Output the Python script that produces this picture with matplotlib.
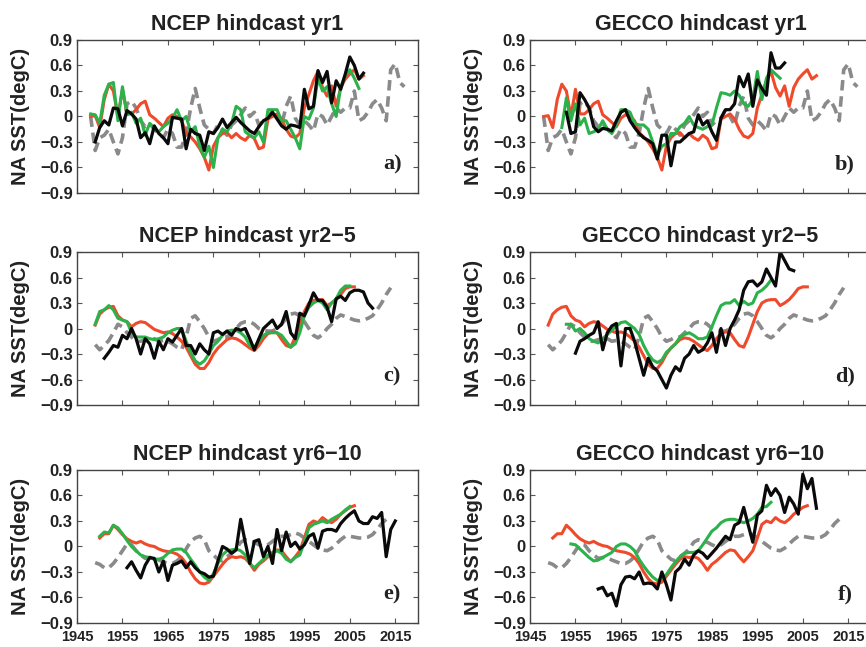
import numpy as np
import matplotlib.pyplot as plt
from matplotlib.ticker import FuncFormatter

plt.rcParams['font.family'] = ['Liberation Sans', 'DejaVu Sans']

# ---- data (NA SST anomaly, degC), start year + yearly values ----
# grey dashed, row 1 (yr1)
grey1_start = 1948
grey1 = [0.0, -0.40, -0.25, -0.22, -0.15, -0.3, -0.44, -0.25, 0.15, 0.18,
         0.1, -0.05, -0.12, -0.08, -0.15, -0.2, -0.25, -0.15, -0.2, -0.36,
         -0.36, -0.2, 0.1, 0.33, 0.1, -0.1, -0.15, -0.2, -0.1, -0.15,
         -0.22, -0.1, -0.05, 0.02, 0.1, 0.0, 0.05, -0.1, -0.05, -0.02,
         0.08, 0.0, -0.1, 0.12, 0.24, -0.02, -0.1, -0.05, -0.1, -0.17,
         0.03, 0.0, -0.1, 0.0, 0.1, 0.05, 0.1, 0.1, 0.3, -0.05,
         -0.02, 0.05, 0.15, 0.2, 0.1, -0.05, 0.55, 0.62, 0.4, 0.35]
# red, row 1
red1_start = 1948
red1 = [0.0, 0.01, -0.13, 0.2, 0.38, 0.3, 0.0, 0.32, 0.03, 0.03,
        0.08, 0.15, 0.18, 0.02, -0.02, -0.07, -0.12, -0.02, 0.02, 0.0,
        -0.05, -0.19, -0.24, -0.3, -0.38, -0.48, -0.63, -0.35, -0.25, -0.2,
        -0.19, -0.25, -0.2, -0.25, -0.28, -0.22, -0.26, -0.38, -0.36, -0.03,
        0.0, 0.03, -0.03, -0.15, -0.23, -0.25, -0.2, 0.1, 0.26, 0.42,
        0.53, 0.34, 0.24, 0.36, 0.12, 0.34, 0.44, 0.5, 0.55, 0.44, 0.48]
# NCEP yr1
green_a_start = 1948
green_a = [0.03, 0.02, -0.08, 0.25, 0.38, 0.40, -0.05, 0.35, 0.02, 0.05,
           -0.08, -0.02, -0.22, -0.08, -0.15, -0.18, -0.12, -0.08, -0.02, 0.08,
           -0.05, 0.0, -0.18, -0.12, -0.35, -0.48, -0.35, -0.60, -0.25, -0.15,
           -0.18, -0.08, 0.12, 0.08, -0.18, -0.22, -0.25, -0.18, -0.3, 0.08,
           0.08, 0.08, -0.05, -0.05, -0.15, -0.25, -0.38, 0.0, -0.03, 0.1,
           0.45, 0.3, 0.35, 0.15, 0.0, 0.35, 0.48, 0.55, 0.45, 0.33]
black_a_start = 1949
black_a = [-0.3, -0.13, -0.05, -0.1, 0.1, 0.09, -0.11, 0.07, 0.03, -0.03,
           -0.25, -0.19, -0.32, -0.11, -0.2, -0.25, -0.32, -0.01, -0.02, -0.03,
           -0.38, -0.15, -0.2, -0.22, -0.4, -0.18, -0.2, -0.13, -0.03, -0.13,
           -0.07, -0.01, -0.07, -0.12, -0.17, -0.2, -0.12, -0.05, -0.02, 0.05,
           -0.03, -0.11, -0.15, -0.1, -0.11, -0.13, 0.32, 0.09, 0.12, 0.54,
           0.4, 0.53, 0.16, 0.42, 0.32, 0.5, 0.7, 0.6, 0.44, 0.51]
# GECCO yr1
green_b_start = 1952
green_b = [-0.13, 0.22, -0.05, 0.15, -0.1, -0.02, -0.2, -0.18, -0.15, -0.05,
           -0.15, -0.2, -0.1, 0.08, 0.08, 0.05, -0.08, -0.1, -0.1, -0.15,
           -0.3, -0.45, -0.35, -0.32, -0.2, -0.2, -0.12, -0.08, 0.0, -0.1,
           -0.13, -0.15, -0.12, -0.1, 0.1, 0.28, 0.27, 0.25, 0.3, 0.25,
           0.15, 0.12, 0.2, 0.53, 0.2, 0.45, 0.55, 0.5, 0.45]
black_b_start = 1953
black_b = [0.05, -0.2, -0.18, 0.28, 0.2, 0.1, -0.12, -0.18, -0.14, -0.15,
           -0.17, -0.05, 0.05, 0.08, -0.05, -0.13, -0.2, -0.25, -0.28, -0.32,
           -0.5, -0.22, -0.22, -0.58, -0.3, -0.3, -0.25, -0.2, -0.18, 0.02,
           -0.1, -0.05, -0.18, -0.28, -0.02, 0.08, 0.08, 0.15, 0.47, 0.35,
           0.5, 0.12, 0.43, 0.33, 0.25, 0.75, 0.57, 0.57, 0.63]

# grey dashed, row 2 (yr2-5)
grey2_start = 1949
grey2 = [-0.19, -0.25, -0.2, -0.14, -0.05, 0.05, 0.02, -0.05, -0.1, -0.15,
         -0.15, -0.13, -0.12, -0.12, -0.15, -0.14, -0.15, -0.18, -0.22, -0.25,
         -0.1, 0.12, 0.15, 0.08, 0.0, -0.1, -0.15, -0.13, -0.1, -0.1,
         -0.05, 0.0, 0.06, 0.08, 0.08, 0.05, 0.0, -0.02, -0.03, -0.03,
         0.0, 0.05, 0.12, 0.17, 0.18, 0.15, 0.08, 0.0, -0.08, -0.11,
         -0.07, 0.0, 0.05, 0.12, 0.16, 0.14, 0.12, 0.1, 0.09, 0.1,
         0.12, 0.15, 0.22, 0.3, 0.4, 0.48]
red2_start = 1949
red2 = [0.04, 0.17, 0.22, 0.25, 0.26, 0.15, 0.1, 0.08, 0.02, 0.06,
        0.08, 0.07, 0.03, -0.01, -0.03, -0.05, -0.04, -0.06, -0.1, -0.15,
        -0.22, -0.32, -0.42, -0.47, -0.47, -0.4, -0.3, -0.23, -0.18, -0.13,
        -0.11, -0.12, -0.15, -0.19, -0.23, -0.26, -0.2, -0.12, -0.06, -0.04,
        -0.05, -0.13, -0.2, -0.22, -0.1, 0.05, 0.2, 0.3, 0.33, 0.34,
        0.34, 0.27, 0.3, 0.34, 0.4, 0.47, 0.49, 0.49]
# NCEP yr2-5
green_c_start = 1949
green_c = [0.05, 0.2, 0.22, 0.27, 0.22, 0.12, 0.1, 0.08, -0.05, -0.1,
           -0.1, -0.1, -0.12, -0.13, -0.12, -0.1, -0.05, -0.02, 0.0, 0.0,
           -0.15, -0.28, -0.38, -0.42, -0.38, -0.3, -0.2, -0.15, -0.08, -0.03,
           -0.02, -0.02, -0.05, -0.1, -0.2, -0.22, -0.15, -0.08, -0.05, -0.05,
           -0.05, -0.08, -0.15, -0.22, -0.18, -0.05, 0.15, 0.25, 0.3, 0.33,
           0.3, 0.22, 0.3, 0.35, 0.45, 0.5, 0.5]
black_c_start = 1951
black_c = [-0.35, -0.28, -0.2, -0.22, -0.08, -0.12, 0.0, -0.12, -0.3, -0.12,
           -0.18, -0.35, -0.15, -0.25, -0.12, -0.16, -0.08, 0.0, -0.2, -0.2,
           -0.3, -0.18, -0.25, -0.3, -0.05, -0.03, -0.07, -0.03, -0.08, 0.0,
           -0.02, 0.0, -0.12, -0.25, -0.12, 0.0, 0.05, 0.1, 0.0, 0.05,
           0.2, -0.05, -0.12, 0.18, 0.15, 0.28, 0.42, 0.33, 0.33, 0.25,
           0.08, 0.35, 0.38, 0.33, 0.42, 0.45, 0.45, 0.43, 0.3, 0.24]
# GECCO yr2-5
green_d_start = 1953
green_d = [0.05, 0.05, -0.03, 0.0, -0.05, -0.12, -0.15, -0.17, -0.12, -0.07,
           -0.02, 0.03, 0.07, 0.08, 0.04, 0.0, -0.07, -0.2, -0.3, -0.37,
           -0.4, -0.37, -0.28, -0.23, -0.18, -0.1, -0.07, -0.05, -0.08, -0.12,
           -0.12, -0.1, 0.02, 0.15, 0.27, 0.3, 0.3, 0.34, 0.27, 0.32,
           0.28, 0.3, 0.42, 0.45, 0.5, 0.57]
black_d_start = 1955
black_d = [-0.29, -0.15, -0.12, -0.08, -0.05, 0.08, -0.25, -0.05, 0.03, 0.06,
           -0.44, 0.0, 0.0, -0.15, -0.35, -0.55, -0.35, -0.45, -0.5, -0.6,
           -0.7, -0.55, -0.45, -0.5, -0.35, -0.3, -0.2, -0.28, -0.25, -0.17,
           -0.05, -0.28, 0.0, -0.2, 0.0, 0.1, 0.22, 0.45, 0.55, 0.56,
           0.5, 0.55, 0.7, 0.6, 0.5, 0.9, 0.8, 0.7, 0.68]

# grey dashed, row 3 (yr6-10)
grey3_start = 1949
grey3 = [-0.19, -0.21, -0.25, -0.25, -0.2, -0.13, -0.05, 0.03, 0.02, -0.05,
         -0.1, -0.14, -0.13, -0.13, -0.16, -0.18, -0.2, -0.2, -0.17, -0.12,
         -0.03, 0.06, 0.1, 0.12, 0.08, -0.05, -0.1, -0.15, -0.17, -0.12,
         -0.08, -0.03, 0.05, 0.08, 0.06, 0.05, 0.02, 0.0, 0.02, 0.06,
         0.1, 0.12, 0.12, 0.14, 0.16, 0.14, 0.1, 0.06, 0.02, -0.02,
         -0.04, -0.05, -0.02, 0.03, 0.08, 0.12, 0.12, 0.11, 0.1, 0.1,
         0.11, 0.14, 0.2, 0.27, 0.32, 0.32]
red3_start = 1950
red3 = [0.1, 0.15, 0.15, 0.25, 0.2, 0.14, 0.09, 0.06, 0.04, 0.06,
        0.03, 0.01, 0.0, -0.03, -0.05, -0.06, -0.07, -0.09, -0.13, -0.2,
        -0.3, -0.38, -0.43, -0.44, -0.42, -0.35, -0.28, -0.21, -0.15, -0.12,
        -0.13, -0.12, -0.14, -0.2, -0.28, -0.21, -0.17, -0.12, -0.07, -0.04,
        -0.05, -0.12, -0.18, -0.12, -0.05, 0.1, 0.26, 0.3, 0.28, 0.34,
        0.3, 0.28, 0.32, 0.38, 0.42, 0.46, 0.48]
# NCEP yr6-10
green_e_start = 1950
green_e = [0.12, 0.17, 0.16, 0.25, 0.22, 0.15, 0.07, 0.0, -0.05, -0.1,
           -0.12, -0.13, -0.15, -0.15, -0.13, -0.08, -0.04, -0.03, -0.03, -0.07,
           -0.15, -0.22, -0.3, -0.36, -0.4, -0.32, -0.2, -0.1, -0.05, -0.04,
           -0.03, -0.05, -0.1, -0.2, -0.25, -0.2, -0.15, -0.1, -0.08, -0.05,
           -0.08, -0.15, -0.18, -0.13, -0.1, 0.05, 0.22, 0.26, 0.28, 0.3,
           0.28, 0.32, 0.35, 0.38, 0.43, 0.47]
black_e_start = 1956
black_e = [-0.25, -0.18, -0.28, -0.37, -0.22, -0.13, -0.14, -0.3, -0.17, -0.4,
           -0.22, -0.2, -0.17, -0.25, -0.18, -0.25, -0.3, -0.32, -0.36, -0.35,
           -0.17, 0.0, -0.03, -0.08, -0.04, 0.32, 0.05, -0.2, 0.06, 0.08,
           -0.12, 0.0, -0.2, 0.2, -0.05, 0.17, 0.0, 0.05, -0.03, 0.02,
           0.12, 0.15, -0.02, 0.18, 0.2, 0.2, 0.18, 0.27, 0.33, 0.38,
           0.42, 0.3, 0.27, 0.27, 0.35, 0.33, 0.4, -0.12, 0.2, 0.3]
# GECCO yr6-10
green_f_start = 1954
green_f = [0.03, 0.02, -0.03, -0.08, -0.13, -0.17, -0.16, -0.13, -0.1, -0.07,
           0.0, 0.03, 0.03, 0.0, -0.05, -0.15, -0.23, -0.3, -0.36, -0.4,
           -0.38, -0.33, -0.25, -0.18, -0.12, -0.08, -0.07, -0.07, -0.05, 0.02,
           0.1, 0.18, 0.22, 0.28, 0.31, 0.32, 0.32, 0.3, 0.28, 0.3,
           0.33, 0.38, 0.46, 0.47, 0.52]
black_f_start = 1960
black_f = [-0.5, -0.48, -0.58, -0.55, -0.7, -0.45, -0.36, -0.35, -0.38, -0.3,
           -0.44, -0.43, -0.44, -0.5, -0.3, -0.45, -0.63, -0.3, -0.25, -0.15,
           -0.22, -0.1, -0.05, -0.08, -0.14, -0.08, -0.02, 0.05, 0.12, 0.08,
           0.25, 0.28, 0.46, 0.25, 0.05, 0.37, 0.42, 0.72, 0.6, 0.68,
           0.6, 0.4, 0.58, 0.5, 0.38, 0.85, 0.68, 0.8, 0.45]

titles = ['NCEP hindcast yr1', 'GECCO hindcast yr1',
          'NCEP hindcast yr2\u22125', 'GECCO hindcast yr2\u22125',
          'NCEP hindcast yr6\u221210', 'GECCO hindcast yr6\u221210']
letters = ['a)', 'b)', 'c)', 'd)', 'e)', 'f)']
yticks = [-0.9, -0.6, -0.3, 0, 0.3, 0.6, 0.9]
xticks = [1945, 1955, 1965, 1975, 1985, 1995, 2005, 2015]

panels = [
    ((grey1_start, grey1), (red1_start, red1), (green_a_start, green_a), (black_a_start, black_a)),
    ((grey1_start, grey1), (red1_start, red1), (green_b_start, green_b), (black_b_start, black_b)),
    ((grey2_start, grey2), (red2_start, red2), (green_c_start, green_c), (black_c_start, black_c)),
    ((grey2_start, grey2), (red2_start, red2), (green_d_start, green_d), (black_d_start, black_d)),
    ((grey3_start, grey3), (red3_start, red3), (green_e_start, green_e), (black_e_start, black_e)),
    ((grey3_start, grey3), (red3_start, red3), (green_f_start, green_f), (black_f_start, black_f)),
]

RED = '#ef4a2b'
GREEN = '#2cb24b'
BLACK = '#0a0a0a'
GREY = '#8a8a8a'


def yfmt(v, pos):
    if abs(v) < 1e-9:
        return '0'
    s = '%.1f' % v
    return s.replace('-', '\u2212')


fig = plt.figure(figsize=(8.66, 6.47), dpi=100)
lefts = [0.0889, 0.612]
bottoms = [0.7017, 0.374, 0.0371]
w, h = 0.3938, 0.2365

for i in range(6):
    r, c = i // 2, i % 2
    ax = fig.add_axes([lefts[c], bottoms[r], w, h])
    (gs, g), (rs, rd), (ns, gr), (bs, bk) = panels[i]
    ax.plot(np.arange(gs, gs + len(g)), g, color=GREY, lw=2.6, dashes=(2.9, 1.6))
    ax.plot(np.arange(rs, rs + len(rd)), rd, color=RED, lw=2.2)
    ax.plot(np.arange(ns, ns + len(gr)), gr, color=GREEN, lw=2.2)
    ax.plot(np.arange(bs, bs + len(bk)), bk, color=BLACK, lw=2.3)

    ax.set_xlim(1945, 2020)
    ax.set_ylim(-0.9, 0.9)
    ax.set_xticks(xticks)
    ax.set_yticks(yticks)
    ax.yaxis.set_major_formatter(FuncFormatter(yfmt))
    ax.tick_params(direction='in', top=True, right=True, length=3.5,
                   width=0.8, color='#555555', pad=3)
    ax.tick_params(axis='y', labelsize=12)
    ax.tick_params(axis='x', labelsize=10.5, pad=5)
    for lab in ax.get_yticklabels() + ax.get_xticklabels():
        lab.set_fontweight('bold')
        lab.set_color('#222222')
    if r < 2:
        ax.set_xticklabels([])
    for sp in ax.spines.values():
        sp.set_color('#444444')
        sp.set_linewidth(1.0)

    ax.set_title(titles[i], fontsize=15.5, fontweight='bold', color='#222222', pad=7)
    ax.set_ylabel('NA SST(degC)', fontsize=14.5, fontweight='bold', color='#222222')
    ax.yaxis.set_label_coords(-0.138, 0.5)
    ax.text(2014.3, -0.56, letters[i], fontsize=16, fontweight='bold',
            family='Liberation Serif', color='#222222', ha='center', va='center')

fig.savefig('out.png', dpi=100)
